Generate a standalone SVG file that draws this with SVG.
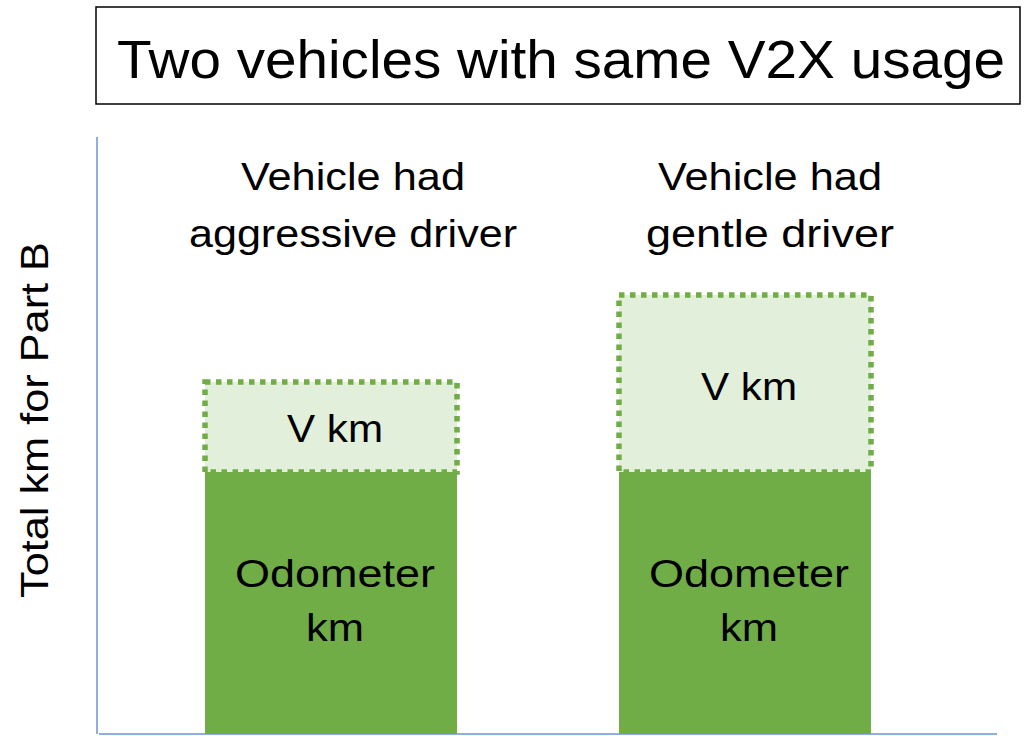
<svg xmlns="http://www.w3.org/2000/svg" width="1024" height="736" viewBox="0 0 1024 736">
<style>
text{font-family:"Liberation Sans",Arial,sans-serif;fill:#000;text-anchor:middle}
.lbl{font-size:38px}
.odo{fill:#70AD47}
.v{fill:#E2EFDA;stroke:#70AD47;stroke-width:5.5;stroke-dasharray:5.5 5.5}
.axis{stroke:#6B93D6;stroke-width:1.5;fill:none}
</style>
<rect width="1024" height="736" fill="#fff"/>
<g id="title">
<rect x="96" y="7" width="924" height="97" fill="#fff" stroke="#000" stroke-width="1.5"/>
<text x="561" y="78" font-size="54" textLength="888" lengthAdjust="spacingAndGlyphs">Two vehicles with same V2X usage</text>
</g>
<g id="axes">
<line class="axis" x1="97" y1="137" x2="97" y2="734"/>
<line class="axis" x1="99" y1="734" x2="997" y2="734"/>
<text transform="translate(48,420) rotate(-90)" font-size="38" textLength="356" lengthAdjust="spacingAndGlyphs">Total km for Part B</text>
</g>
<g id="bar-aggressive">
<rect class="odo" x="205" y="472" width="252" height="262"/>
<rect class="v" x="205" y="382" width="252" height="90"/>
<text class="lbl" x="335" y="442" textLength="96" lengthAdjust="spacingAndGlyphs">V km</text>
<text class="lbl" x="335" y="587" textLength="200" lengthAdjust="spacingAndGlyphs">Odometer</text>
<text class="lbl" x="335" y="641" textLength="58" lengthAdjust="spacingAndGlyphs">km</text>
<text class="lbl" x="353" y="190" textLength="224" lengthAdjust="spacingAndGlyphs">Vehicle had</text>
<text class="lbl" x="353" y="247" textLength="328" lengthAdjust="spacingAndGlyphs">aggressive driver</text>
</g>
<g id="bar-gentle">
<rect class="odo" x="619" y="472" width="252" height="262"/>
<rect class="v" x="619" y="295" width="252" height="177"/>
<text class="lbl" x="749" y="400" textLength="96" lengthAdjust="spacingAndGlyphs">V km</text>
<text class="lbl" x="749" y="587" textLength="200" lengthAdjust="spacingAndGlyphs">Odometer</text>
<text class="lbl" x="749" y="641" textLength="58" lengthAdjust="spacingAndGlyphs">km</text>
<text class="lbl" x="770" y="190" textLength="224" lengthAdjust="spacingAndGlyphs">Vehicle had</text>
<text class="lbl" x="770" y="247" textLength="248" lengthAdjust="spacingAndGlyphs">gentle driver</text>
</g>
</svg>
